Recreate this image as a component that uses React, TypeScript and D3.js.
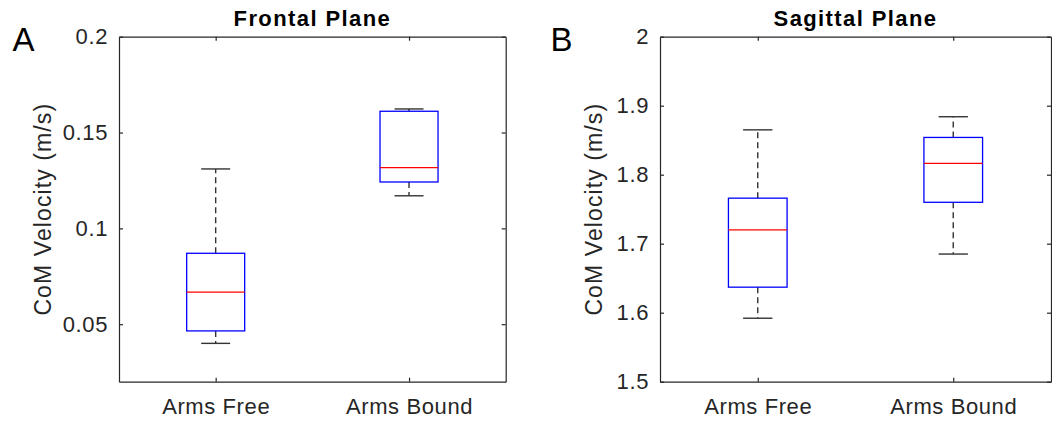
import React, { useEffect, useRef } from 'react';
import * as d3 from 'd3';

// group names on the x axis
const groups = ['Arms Free', 'Arms Bound'];

// box stats per group: [lower whisker, q1, median, q3, upper whisker]
const frontalFree = [0.040, 0.0465, 0.0667, 0.087, 0.131];
const frontalBound = [0.117, 0.1242, 0.1317, 0.1611, 0.1623];
const sagittalFree = [1.592, 1.637, 1.720, 1.766, 1.865];
const sagittalBound = [1.685, 1.760, 1.8165, 1.854, 1.884];

const frontalTicks = [0.05, 0.1, 0.15, 0.2];
const frontalTickLabels = ['0.05', '0.1', '0.15', '0.2'];
const sagittalTicks = [1.5, 1.6, 1.7, 1.8, 1.9, 2];
const sagittalTickLabels = ['1.5', '1.6', '1.7', '1.8', '1.9', '2'];

const FONT = '"Liberation Sans", Arial, Helvetica, sans-serif';
const AXIS_COLOR = '#262626';

type Panel = {
  letter: string;
  title: string;
  stats: number[][];
  domain: [number, number];
  ticks: number[];
  tickLabels: string[];
  left: number;
  right: number;
  letterX: number;
  labelX: number;
};

const panels: Panel[] = [
  {
    letter: 'A', title: 'Frontal Plane', stats: [frontalFree, frontalBound],
    domain: [0.02, 0.2], ticks: frontalTicks, tickLabels: frontalTickLabels,
    left: 119, right: 505.7, letterX: 12.5, labelX: 50.5,
  },
  {
    letter: 'B', title: 'Sagittal Plane', stats: [sagittalFree, sagittalBound],
    domain: [1.5, 2], ticks: sagittalTicks, tickLabels: sagittalTickLabels,
    left: 660, right: 1051, letterX: 550.5, labelX: 602,
  },
];

const App = () => {
  const svgRef = useRef<SVGSVGElement>(null);

  useEffect(() => {
    const width = 1052;
    const height = 421;
    const top = 36.7;
    const bottom = 381.7;

    const svg = d3.select(svgRef.current)
      .attr('width', width)
      .attr('height', height)
      .style('font-family', FONT);

    svg.selectAll('*').remove();

    panels.forEach(p => {
      const g = svg.append('g');

      const x = d3.scaleLinear().domain([0.5, 2.5]).range([p.left, p.right]);
      const y = d3.scaleLinear().domain(p.domain).range([bottom, top]);
      const positions = groups.map((_, i) => i + 1);

      // boxes first, axes on top
      const boxHalf = 0.15;
      const capHalf = 0.075;
      p.stats.forEach((s, i) => {
        const cx = x(i + 1);
        const [lo, q1, med, q3, hi] = s;
        const bw = x(1 + boxHalf) - x(1);
        const cw = x(1 + capHalf) - x(1);

        // whiskers (dashed)
        g.append('line')
          .attr('x1', cx).attr('x2', cx)
          .attr('y1', y(q3)).attr('y2', y(hi))
          .attr('stroke', '#333').attr('stroke-width', 1.4)
          .attr('stroke-dasharray', '6,4');
        g.append('line')
          .attr('x1', cx).attr('x2', cx)
          .attr('y1', y(q1)).attr('y2', y(lo))
          .attr('stroke', '#333').attr('stroke-width', 1.4)
          .attr('stroke-dasharray', '6,4');

        // caps
        [lo, hi].forEach(v => {
          g.append('line')
            .attr('x1', cx - cw).attr('x2', cx + cw)
            .attr('y1', y(v)).attr('y2', y(v))
            .attr('stroke', '#333').attr('stroke-width', 1.4);
        });

        g.append('rect')
          .attr('x', cx - bw)
          .attr('y', y(q3))
          .attr('width', bw * 2)
          .attr('height', y(q1) - y(q3))
          .attr('fill', 'none')
          .attr('stroke', '#0000ff')
          .attr('stroke-width', 1.3);

        g.append('line')
          .attr('x1', cx - bw).attr('x2', cx + bw)
          .attr('y1', y(med)).attr('y2', y(med))
          .attr('stroke', '#ff0000').attr('stroke-width', 1.3);
      });

      // left axis
      g.append('g')
        .attr('transform', `translate(${p.left},0)`)
        .call(d3.axisLeft(y).tickValues(p.ticks)
          .tickFormat((_, i) => p.tickLabels[i])
          .tickSizeInner(-4).tickSizeOuter(0).tickPadding(11));

      // right axis, ticks only
      g.append('g')
        .attr('transform', `translate(${p.right},0)`)
        .call(d3.axisRight(y).tickValues(p.ticks).tickFormat(() => '')
          .tickSizeInner(-4).tickSizeOuter(0));

      // bottom axis
      g.append('g')
        .attr('transform', `translate(0,${bottom})`)
        .call(d3.axisBottom(x).tickValues(positions)
          .tickFormat((_, i) => groups[i])
          .tickSizeInner(-4).tickSizeOuter(0).tickPadding(17));

      // top axis, ticks only
      g.append('g')
        .attr('transform', `translate(0,${top})`)
        .call(d3.axisTop(x).tickValues(positions).tickFormat(() => '')
          .tickSizeInner(-4).tickSizeOuter(0));

      g.selectAll('.domain, .tick line')
        .attr('stroke', AXIS_COLOR)
        .attr('stroke-width', 1.2);

      g.selectAll('.tick text')
        .attr('fill', AXIS_COLOR)
        .style('font-family', FONT)
        .style('font-size', '22px')
        .style('letter-spacing', '0.6px');

      // y label
      g.append('text')
        .attr('transform', `translate(${p.labelX},${(top + bottom) / 2}) rotate(-90)`)
        .attr('text-anchor', 'middle')
        .attr('fill', AXIS_COLOR)
        .style('font-size', '23px')
        .style('letter-spacing', '1.1px')
        .text('CoM Velocity (m/s)');

      // title
      g.append('text')
        .attr('x', (p.left + p.right) / 2)
        .attr('y', 26)
        .attr('text-anchor', 'middle')
        .attr('fill', '#000')
        .style('font-size', '22px')
        .style('font-weight', 'bold')
        .style('letter-spacing', '1.4px')
        .text(p.title);

      // panel letter
      g.append('text')
        .attr('x', p.letterX)
        .attr('y', 51)
        .attr('fill', '#000')
        .style('font-size', '33px')
        .text(p.letter);
    });

    return () => {
      d3.select(svgRef.current).selectAll('*').remove();
    };
  }, []);

  return (
    <svg ref={svgRef} style={{ position: 'absolute', left: 0, top: 0, background: '#fff' }}></svg>
  );
};

export default App;
